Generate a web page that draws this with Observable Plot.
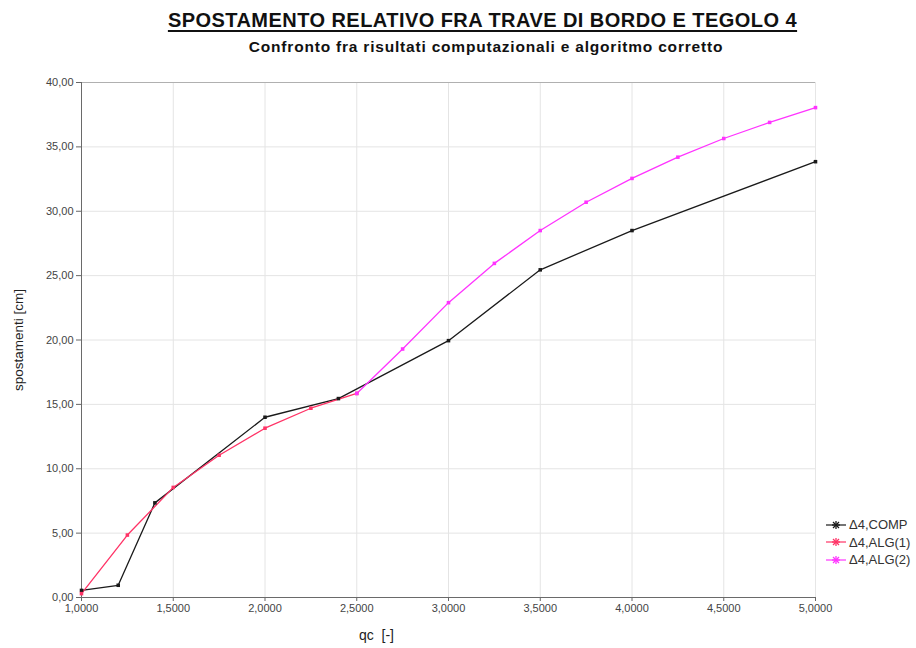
<!DOCTYPE html>
<html>
<head>
<meta charset="utf-8">
<script src="https://cdn.jsdelivr.net/npm/d3@7"></script>
<script src="https://cdn.jsdelivr.net/npm/@observablehq/plot@0.6"></script>
<style>
  html, body { margin: 0; padding: 0; background: #fff; }
  #wrap { position: relative; width: 916px; height: 648px; font-family: "Liberation Sans", Arial, sans-serif; }
  #title { position: absolute; left: 0; width: 965px; top: 9.6px; line-height: 20px; text-align: center; font-weight: bold; font-size: 20px; letter-spacing: 0.45px; color: #111; text-decoration: underline; text-decoration-thickness: 1.5px; text-underline-offset: 3px; white-space: nowrap; }
  #subtitle { position: absolute; left: 0; width: 972px; top: 39.4px; line-height: 15.5px; text-align: center; font-weight: bold; font-size: 15.5px; letter-spacing: 0.8px; color: #111; white-space: nowrap; }
  #chart { position: absolute; left: 0; top: 0; }
  #legend { position: absolute; left: 826px; top: 516px; font-size: 13px; color: #333; }
  #legend .item { height: 17.5px; line-height: 17.5px; display: flex; align-items: center; white-space: nowrap; }
  #legend svg { margin-right: 3px; }
</style>
</head>
<body>
<div id="wrap">
  <div id="chart"></div>
  <div id="title">SPOSTAMENTO RELATIVO FRA TRAVE DI BORDO E TEGOLO 4</div>
  <div id="subtitle">Confronto fra risultati computazionali e algoritmo corretto</div>
  <div id="legend"></div>
</div>
<script>
// qc values and displacements [cm] for each series
const compQc = [1.0, 1.2, 1.4, 2.0, 2.4, 3.0, 3.5, 4.0, 5.0];
const compVal = [0.55, 0.95, 7.35, 14.0, 15.45, 19.95, 25.45, 28.5, 33.85];

const alg1Qc = [1.0, 1.25, 1.5, 1.75, 2.0, 2.25, 2.5];
const alg1Val = [0.3, 4.85, 8.55, 11.05, 13.15, 14.7, 15.85];

const alg2Qc = [2.5, 2.75, 3.0, 3.25, 3.5, 3.75, 4.0, 4.25, 4.5, 4.75, 5.0];
const alg2Val = [15.85, 19.3, 22.9, 25.95, 28.5, 30.7, 32.55, 34.2, 35.65, 36.9, 38.05];

const seriesNames = ["\u03944,COMP", "\u03944,ALG(1)", "\u03944,ALG(2)"];
const seriesColors = ["#1a1a1a", "#ff3366", "#ff33ff"];

const xTicks = [1.0, 1.5, 2.0, 2.5, 3.0, 3.5, 4.0, 4.5, 5.0];
const yTicks = [0, 5, 10, 15, 20, 25, 30, 35, 40];

const toRows = (qc, val, s) => qc.map((q, i) => ({qc: q, v: val[i], s}));
const rows = [
  ...toRows(compQc, compVal, seriesNames[0]),
  ...toRows(alg1Qc, alg1Val, seriesNames[1]),
  ...toRows(alg2Qc, alg2Val, seriesNames[2])
];

const fmtX = d => d3.format(".4f")(d).replace(".", ",");
const fmtY = d => d3.format(".2f")(d).replace(".", ",");

const chart = Plot.plot({
  width: 916,
  height: 648,
  marginTop: 82,
  marginLeft: 81,
  marginRight: 101,
  marginBottom: 51,
  style: {fontFamily: "'Liberation Sans', Arial, sans-serif", background: "#fff", color: "#444"},
  x: {domain: [1, 5], ticks: xTicks},
  y: {domain: [0, 40], ticks: yTicks},
  color: {domain: seriesNames, range: seriesColors},
  marks: [
    Plot.gridX(xTicks.slice(1, -1), {stroke: "#e4e4e4", strokeOpacity: 1}),
    Plot.gridY(yTicks.slice(1, -1), {stroke: "#e4e4e4", strokeOpacity: 1}),
    Plot.ruleY([40], {stroke: "#b0b0b0"}),
    Plot.ruleX([5], {stroke: "#e6e6e6"}),
    Plot.axisX(xTicks, {tickFormat: fmtX, tickSize: 4, tickPadding: 3, fontSize: 11, label: null, stroke: "#666", fill: "#444"}),
    Plot.axisY(yTicks, {tickFormat: fmtY, tickSize: 5, tickPadding: 3, fontSize: 11, label: null, stroke: "#666", fill: "#444"}),
    Plot.ruleX([1], {stroke: "#6a6a6a"}),
    Plot.ruleY([0], {stroke: "#6a6a6a"}),
    Plot.line(rows, {x: "qc", y: "v", z: "s", stroke: "s", strokeWidth: 1.3}),
    Plot.dot(rows, {x: "qc", y: "v", fill: "s", symbol: "square", r: 2}),
    Plot.text(["spostamenti [cm]"], {frameAnchor: "left", textAnchor: "middle", dx: -63, rotate: -90, fontSize: 13.5, fill: "#222"}),
    Plot.text(["qc\u00a0\u00a0[-]"], {frameAnchor: "bottom", dx: -72, dy: 42, fontSize: 14, fill: "#222"})
  ]
});
document.getElementById("chart").appendChild(chart);

// legend entries: line segment with an asterisk marker
const legend = document.getElementById("legend");
seriesNames.forEach((name, i) => {
  const c = seriesColors[i];
  const item = document.createElement("div");
  item.className = "item";
  item.innerHTML =
    `<svg width="20" height="12" viewBox="0 0 20 12">` +
    `<line x1="0" y1="6" x2="20" y2="6" stroke="${c}" stroke-width="1.2"/>` +
    `<g stroke="${c}" stroke-width="1.3">` +
    `<line x1="10" y1="2" x2="10" y2="10"/><line x1="6" y1="6" x2="14" y2="6"/>` +
    `<line x1="7" y1="3" x2="13" y2="9"/><line x1="13" y1="3" x2="7" y2="9"/></g></svg>` +
    `<span>${name}</span>`;
  legend.appendChild(item);
});
</script>
</body>
</html>
